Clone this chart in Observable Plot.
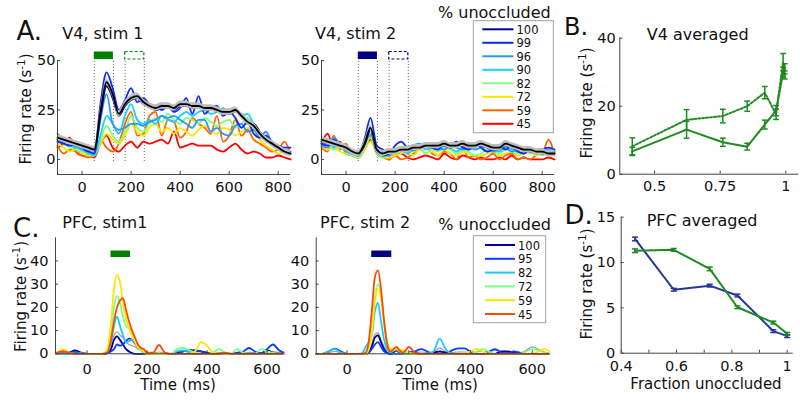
<!DOCTYPE html>
<html><head><meta charset="utf-8">
<script src="https://cdn.jsdelivr.net/npm/d3@7"></script>
<script src="https://cdn.jsdelivr.net/npm/@observablehq/plot@0.6"></script>
<style>
body{margin:0;background:#fff;}
#root{position:relative;width:800px;height:402px;overflow:hidden;font-family:"DejaVu Sans",sans-serif;background:#fff;}
#root svg{position:absolute;}
</style></head><body><div id="root"></div>
<script>
// ---------- time grids ----------
const tA = [-100,-75,-50,-25,0,25,50,75,100,125,150,175,200,225,250,275,300,325,350,375,400,425,450,475,500,525,550,575,600,625,650,675,700,725,750,775,800,825,850];
const tC = [-100,-80,-60,-40,-20,0,20,40,50,60,70,80,90,100,110,120,130,140,150,160,170,180,190,200,220,240,260,280,300,320,340,360,380,400,420,440,460,480,500,520,540,560,580,600,620,640,655];

// ---------- legend levels / colours ----------
const v4Levels = ["100","99","96","90","82","72","59","45"];
const v4Colors = ["#00008c","#0a28ff","#2b96ff","#14d2ff","#7dff82","#ffe600","#ff6400","#ff0000"];
const pfcLevels = ["100","95","82","72","59","45"];
const pfcColors = ["#00009b","#0a3cff","#1ec8ff","#78ff8c","#ffe600","#ff4a00"];

// ---------- A: V4, stim 1 ----------
const a1Mean = [11,10,9,8,7,6,5,24,39,33,23,28,31,32,29,27,26,27,27,26,28,28,27,27,26,26,25,24,24,25,22,19,17,13,10,8,6,4,3];
const a1_100 = [10,9,9,7,7,5,4,22,37,31,22,27,30,31,28,27,25,26,27,25,27,27,26,28,25,27,24,25,23,24,23,18,18,14,11,8,7,4,3];
const a1_99  = [9,8,7,8,6,4,3,28,44,36,25,30,36,29,31,28,27,25,27,24,26,31,23,32,23,26,27,22,24,21,16,19,13,11,12,9,7,6,6];
const a1_96  = [13,10,8,7,5,4,3,20,33,18,15,16,18,18,17,19,20,22,21,22,20,18,16,20,20,14,16,13,12,17,18,14,15,11,14,8,6,5,4];
const a1_90  = [10,8,7,6,5,3,2,12,22,18,13,22,28,20,18,20,18,22,20,19,22,24,22,24,25,23,24,26,23,25,22,23,18,14,10,7,5,4,4];
const a1_82  = [9,8,6,5,4,3,2,10,17,12,9,14,22,16,14,18,21,19,23,20,18,21,20,18,21,19,17,19,20,16,18,21,16,13,10,7,5,4,3];
const a1_72  = [8,6,4,5,3,2,2,8,13,10,8,12,18,14,12,16,18,14,16,13,16,14,12,15,17,14,13,16,15,12,14,16,15,10,7,5,3,4,3];
const a1_59  = [7,3,5,4,2,1,2,10,6,4,8,18,24,12,13,22,24,12,20,19,11,14,21,18,16,13,22,9,12,20,12,15,10,8,6,4,5,9,3];
const a1_45  = [6,8,11,4,2,2,1,8,12,6,4,7,9,6,9,8,9,10,8,14,6,7,8,7,7,7,5,4,6,8,5,3,4,3,1,1,2,1,0];

// ---------- A: V4, stim 2 ----------
const a2Mean = [10,9,8,7,6,4,3,8,16,5,3,4,4,5,5,6,6,7,7,7,8,7,7,8,7,7,8,7,6,6,8,7,6,5,5,4,4,3,3];
const a2_100 = [9,8,8,7,5,4,3,7,15,4,2,3,4,5,5,5,6,7,6,7,7,6,8,7,6,7,7,6,5,6,7,6,5,5,4,4,3,3,3];
const a2_99  = [8,7,10,7,5,4,3,10,21,7,5,3,7,9,6,5,7,8,6,5,8,7,9,6,5,8,6,4,5,7,5,7,4,3,5,4,5,6,5];
const a2_96  = [7,6,11,8,5,3,2,9,15,5,3,2,5,6,4,7,8,6,7,6,5,7,6,5,7,5,6,7,4,5,6,4,5,6,4,3,4,5,4];
const a2_90  = [9,10,6,8,4,3,2,8,13,4,2,2,4,5,3,5,7,5,6,5,7,6,4,6,5,6,7,4,5,4,6,5,4,3,5,4,3,4,4];
const a2_82  = [8,7,5,6,4,2,1,6,11,3,1,2,3,4,5,4,6,3,5,4,6,5,3,5,4,2,3,5,4,3,5,4,3,6,3,4,2,3,3];
const a2_72  = [7,5,6,4,3,2,1,5,9,3,1,1,2,3,4,2,5,3,4,2,5,3,2,4,3,2,2,3,4,2,3,4,2,3,4,2,3,2,2];
const a2_59  = [6,4,12,5,8,2,1,6,12,3,1,0,2,0,1,3,6,7,3,2,4,3,0,6,1,2,0,1,3,0,2,3,0,1,0,2,3,10,2];
const a2_45  = [8,13,6,9,3,2,1,5,10,4,2,1,2,3,1,0,1,2,1,0,3,1,0,2,1,0,1,0,0,1,0,2,0,1,0,0,0,1,0];

// stimulus windows (ms)
const v4Stim = [[50,128],[176,254]];
const pfcStim = [80,145];

// ---------- B: V4 averaged ----------
const bX = [0.415,0.622,0.76,0.853,0.92,0.963,0.99,0.996];
const bSolid = [6.7,13.1,9.4,8.1,14.6,18.7,30,29.2];
const bSolidErr = [1.2,2.5,1.2,1.0,1.3,1.5,1.5,1.2];
const bDotted = [8.2,16.0,17.1,20,24,17.6,33,31];
const bDottedErr = [2.5,3,2,1.5,1.8,1.5,2.5,1.5];

// ---------- C: PFC, stim1 ----------
const c1Mean = [0.5,1,0.5,1.5,0.5,0,0,0,0,0.2,1,4,8,9.5,8,7,5,4,3.5,3,2,1.5,1,0.5,0.3,0.8,0.3,0,0.6,1,1,0.8,1,0.6,0.3,0.5,0.3,0.2,0.5,0.5,0.6,0.5,0.5,1,1,0.5,0.3];
const c1_100 = [0.3,1,0.5,1.5,0.5,0,0,0,0,0,0.5,2,6,7.5,6,4,2,1,0.3,0,0,0,0,0,0,0,0,0,0.3,1,1.5,1.5,1,0.5,0,0,0,0,0,0,0,0,0,1.5,0.5,0,0];
const c1_95  = [0,0.5,0.5,0.8,0.3,0,0,0,0,0,0.5,1,2,4,3.5,4,5.5,6.5,6,4.5,3,2,1,0.5,0,0,0,0,0,1,1.5,1.5,1,0,0,0,0,0,0.5,1,2.5,1,0.3,2,4,1.5,0.5];
const c1_82  = [0,0,0,0,0.3,0,0,0,0,0.2,1,5,12,16,12,8,5,5.5,6,5,3,1.5,0.5,0,0,0,0,0,1,1.5,0.5,0,0,0,0,0,0,0,0,0,0,0,0,0,0,0,0];
const c1_72  = [0.5,1,0.5,0,0,0,0,0,0,0.5,2,9,20,25,22,16,12,11,10.5,6,3,1.5,0.5,0,0,0,0,0,2,2.5,1.5,0.5,0,0,0.5,2,0.5,0,2,0.5,0,0,2,1,0.5,0,0];
const c1_59  = [0,2,0.5,0,0,0,0,0,0,0.5,3,13,28,34,31,22,15,11,8,5,3,2,1,0,0,0,0,0,0,0,0,1,5,3.5,0.5,0,0,0,0,0,0,0,0,0,0,0,0];
const c1_45  = [0.5,1,0.5,0,0,0,0,0,0,0.2,1,6,14,20,23,24,19,14,10,7,4,2.5,2,0.5,0.5,3.8,0.5,0,0,0,0,0,0,0,0,0,0.5,0,0,0,0,0,0,0,0,0,0];

// ---------- C: PFC, stim 2 ----------
const c2Mean = [0,0,0.5,1,0.5,0,0,0,0,0.5,1,4,8.5,9,6,3,1.5,1,1,1,0.5,0.5,0.3,0.5,0.5,0.8,0.5,0.8,2.5,1,0.5,0.8,0.8,0.5,0.8,1,0.8,1.5,1,0.6,0.5,0.3,1.5,3,2,0.8,0.3];
const c2_100 = [0,0,0,0,0,0,0,0,0,0,0.5,3,7,8,5,2,0.5,0,0,0,0,0,0,0,0,0,0,0.5,1,0.5,0,0,0,0,0,0,0,0,1,1,0.5,0,0,0,0,0,0];
const c2_95  = [0,0,1,2.2,1,0,0,0,0,0,0.5,2,4,5,3,1,0.3,0,0.5,1.5,0.5,0,0,0.5,1,2,1,0,0,0,1.5,2.3,2.3,1,0,0,1,2,0.5,0,1,0.5,0,0,0,0,0];
const c2_82  = [0,0,1,2,0.5,0,0,0,0.5,3,5,8,18,22,14,6,2,0.5,0,0,0,0,0,0,0,0,0,1,6.5,2,0,0,0,0,0,0,0,0,0,0,0,0,0,0,0,0,0];
const c2_72  = [0,0,0,0,0,0,0,0,0,0,2,10,24,30,26,14,5,2,2,2,1,0.3,0,0,0,0,0,0,0,0,0,0,0,0,1,2,1,0,0,0,0,0,1,2,1.5,0.5,0];
const c2_59  = [0,0,0,0,0,0,0,0,0,0,2,9,22,28,24,13,5,2,1.5,2,2,1.5,1,0.5,0,0,0,0,0,0,0,0,0,1,2,1,0,0,0,0,0,0,0,0,1,2,1];
const c2_45  = [0,0,0,0,0,0,0,0,0,0.5,5,18,33,36,28,14,4,1,2,3,1.5,0.5,1.5,3,0.5,0,0,0,0,0,0,0,0,0,0,0,0,0,0,0,0,0,0,0,0,0,0];

// ---------- D: PFC averaged ----------
const dX = [0.45,0.59,0.72,0.82,0.95,1.0];
const dBlue = [12.6,7.0,7.45,6.36,2.43,1.88];
const dBlueErr = [0.2,0.15,0.15,0.15,0.15,0.15];
const dGreen = [11.3,11.4,9.3,5.07,3.38,2.14];
const dGreenErr = [0.2,0.15,0.2,0.15,0.15,0.15];

const GREEN = "#1f8a1f", STIMGREEN = "#008000", NAVY = "#000080", DBLUE = "#25389a";

// ---------- helpers ----------
const root = document.getElementById("root");
const rows = (t, v) => t.map((x, i) => ({t: x, v: v[i]}));

function panel(o){
  const [x0,x1] = o.xDomain, [y0,y1] = o.yDomain;
  const pxX = (o.width - o.ml - o.mr)/(x1-x0);
  const pxY = (o.height - o.mt - o.mb)/(y1-y0);
  const axisMarks = [
    Plot.ruleX([x0], {y1: y0, y2: y1, stroke: "#444", strokeWidth: 1}),
    Plot.ruleY([y0], {x1: x0, x2: x1, stroke: "#444", strokeWidth: 1}),
    Plot.ruleX(o.xTicks, {x: d => d, y1: y0, y2: y0 + 3/pxY, stroke: "#444"}),
    Plot.ruleY(o.yTicks, {y: d => d, x1: x0, x2: x0 + 3/pxX, stroke: "#444"})
  ];
  const svg = Plot.plot({
    width: o.width, height: o.height,
    marginLeft: o.ml, marginRight: o.mr, marginTop: o.mt, marginBottom: o.mb,
    x: {domain: o.xDomain, ticks: o.xTicks, tickFormat: o.xFmt, tickSize: 0, tickPadding: o.xPad, label: null},
    y: {domain: o.yDomain, ticks: o.yTicks, tickSize: 0, tickPadding: o.yPad, label: null},
    style: {background: "transparent", fontSize: "14.5px", fontFamily: "'DejaVu Sans', sans-serif", color: "#111", overflow: "visible"},
    marks: [...o.marks, ...axisMarks]
  });
  svg.style.position = "absolute";
  svg.style.left = o.left + "px";
  svg.style.top = o.top + "px";
  root.appendChild(svg);
}

function v4Marks(series, mean, stimColor){
  const order = [7,6,5,4,3,2,0,1];
  const m = [];
  m.push(Plot.ruleX(v4Stim.flat(), {x: d => d, y1: -1, y2: 50.5, stroke: "#666", strokeDasharray: "1,2", strokeWidth: 1}));
  for (const i of order) m.push(Plot.line(rows(tA, series[i]), {x: "t", y: "v", stroke: v4Colors[i], strokeWidth: 1.8, curve: "monotone-x"}));
  m.push(Plot.areaY(rows(tA, mean), {x: "t", y1: d => d.v - 1.6, y2: d => d.v + 1.6, fill: "#bdbdbd", curve: "monotone-x"}));
  m.push(Plot.line(rows(tA, mean), {x: "t", y: "v", stroke: "#000", strokeWidth: 1.8, curve: "monotone-x"}));
  m.push(Plot.rect([v4Stim[0]], {x1: d => d[0], x2: d => d[1], y1: 50.5, y2: 54.3, fill: stimColor}));
  m.push(Plot.rect([v4Stim[1]], {x1: d => d[0], x2: d => d[1], y1: 50.5, y2: 54.3, fill: "none", stroke: stimColor, strokeWidth: 1.2, strokeDasharray: "3,2"}));
  return m;
}

function pfcMarks(series, mean, stimColor){
  const m = [];
  m.push(Plot.line(rows(tC, mean), {x: "t", y: "v", stroke: "#9a9a9a", strokeWidth: 1.1, curve: "monotone-x"}));
  for (let i = 0; i < series.length; i++) m.push(Plot.line(rows(tC, series[i]), {x: "t", y: "v", stroke: pfcColors[i], strokeWidth: 1.8, curve: "monotone-x"}));
  m.push(Plot.rect([pfcStim], {x1: d => d[0], x2: d => d[1], y1: 41.5, y2: 44.3, fill: stimColor}));
  return m;
}

function errMarks(xs, ys, es, color, cap){
  const d = xs.map((x, i) => ({x, y: ys[i], e: es[i]}));
  return [
    Plot.ruleX(d, {x: "x", y1: r => r.y - r.e, y2: r => r.y + r.e, stroke: color, strokeWidth: 1.5}),
    Plot.link(d, {x1: r => r.x - cap, x2: r => r.x + cap, y1: r => r.y + r.e, y2: r => r.y + r.e, stroke: color, strokeWidth: 1.5}),
    Plot.link(d, {x1: r => r.x - cap, x2: r => r.x + cap, y1: r => r.y - r.e, y2: r => r.y - r.e, stroke: color, strokeWidth: 1.5})
  ];
}

// ---------- A panels ----------
panel({left: 0, top: 0, width: 300, height: 200, ml: 57, mr: 10, mt: 60, mb: 26,
  xDomain: [-100, 850], yDomain: [-7.6, 50], xTicks: [0,200,400,600,800], yTicks: [0,25,50],
  xPad: 7, yPad: 2,
  marks: v4Marks([a1_100,a1_99,a1_96,a1_90,a1_82,a1_72,a1_59,a1_45], a1Mean, STIMGREEN)});

panel({left: 280, top: 0, width: 285, height: 200, ml: 41, mr: 11, mt: 60, mb: 26,
  xDomain: [-100, 850], yDomain: [-7.6, 50], xTicks: [0,200,400,600,800], yTicks: [0,25,50],
  xPad: 7, yPad: 2,
  marks: v4Marks([a2_100,a2_99,a2_96,a2_90,a2_82,a2_72,a2_59,a2_45], a2Mean, NAVY)});

// ---------- B ----------
{
  const d = bX.map((x, i) => ({x, s: bSolid[i], dd: bDotted[i]}));
  panel({left: 560, top: 0, width: 240, height: 200, ml: 59.3, mr: 1.7, mt: 37.7, mb: 26.3,
    xDomain: [0.3674, 1.0497], yDomain: [0, 40], xTicks: [0.5,0.75,1], yTicks: [0,20,40],
    xFmt: v => String(v), xPad: 7, yPad: 4,
    marks: [
      Plot.line(d, {x: "x", y: "dd", stroke: GREEN, strokeWidth: 2, strokeDasharray: "2,2"}),
      Plot.line(d, {x: "x", y: "s", stroke: GREEN, strokeWidth: 2}),
      ...errMarks(bX, bDotted, bDottedErr, GREEN, 0.011),
      ...errMarks(bX, bSolid, bSolidErr, GREEN, 0.011)
    ]});
}

// ---------- C panels ----------
panel({left: 0, top: 200, width: 300, height: 202, ml: 55, mr: 17, mt: 37.3, mb: 48.7,
  xDomain: [-105, 655], yDomain: [0, 50], xTicks: [0,200,400,600], yTicks: [0,10,20,30,40],
  xPad: 10, yPad: 7,
  marks: pfcMarks([c1_100,c1_95,c1_82,c1_72,c1_59,c1_45], c1Mean, STIMGREEN)});

panel({left: 280, top: 200, width: 285, height: 202, ml: 35.7, mr: 16.3, mt: 37.3, mb: 48.7,
  xDomain: [-100, 655], yDomain: [0, 50], xTicks: [0,200,400,600], yTicks: [0,10,20,30,40],
  xPad: 10, yPad: 7,
  marks: pfcMarks([c2_100,c2_95,c2_82,c2_72,c2_59,c2_45], c2Mean, NAVY)});

// ---------- D ----------
{
  const b = dX.map((x, i) => ({x, y: dBlue[i]}));
  const g = dX.map((x, i) => ({x, y: dGreen[i]}));
  const labeled = new Set([0.4, 0.6, 0.8, 1]);
  panel({left: 560, top: 200, width: 240, height: 202, ml: 60.7, mr: 7.3, mt: 16.7, mb: 49.3,
    xDomain: [0.4, 1.0217], yDomain: [0, 15], xTicks: [0.4,0.5,0.6,0.7,0.8,0.9,1], yTicks: [0,5,10,15],
    xFmt: v => labeled.has(v) ? String(v) : "", xPad: 8, yPad: 6,
    marks: [
      Plot.line(b, {x: "x", y: "y", stroke: DBLUE, strokeWidth: 2}),
      Plot.line(g, {x: "x", y: "y", stroke: GREEN, strokeWidth: 2}),
      ...errMarks(dX, dBlue, dBlueErr, DBLUE, 0.011),
      ...errMarks(dX, dGreen, dGreenErr, GREEN, 0.011)
    ]});
}

// ---------- text overlay + legends ----------
const ov = d3.select("#root").append("svg").attr("width", 800).attr("height", 402)
  .style("left", "0px").style("top", "0px").attr("font-family", "'DejaVu Sans', sans-serif");
function txt(x, y, s, size, anchor){
  ov.append("text").attr("x", x).attr("y", y).attr("font-size", size)
    .attr("text-anchor", anchor || "start").attr("fill", "#111").text(s);
}
function ylab(x, y, size){
  const t = ov.append("text").attr("transform", `translate(${x},${y}) rotate(-90)`)
    .attr("text-anchor", "middle").attr("font-size", size).attr("fill", "#111");
  t.append("tspan").text("Firing rate (s");
  t.append("tspan").attr("dy", -6).attr("font-size", size * 0.7).text("-1");
  t.append("tspan").attr("dy", 6).text(")");
}
function legend(x, y, w, h, levels, colors, rowY0, rowStep, lx1, lx2, tx){
  ov.append("rect").attr("x", x).attr("y", y).attr("width", w).attr("height", h)
    .attr("fill", "#fff").attr("stroke", "#a0a0a0").attr("stroke-width", 1);
  levels.forEach((l, i) => {
    const yy = rowY0 + i * rowStep;
    ov.append("line").attr("x1", lx1).attr("x2", lx2).attr("y1", yy).attr("y2", yy)
      .attr("stroke", colors[i]).attr("stroke-width", 2);
    ov.append("text").attr("x", tx).attr("y", yy + 4.6).attr("font-size", 11.5).attr("fill", "#111").text(l);
  });
}

txt(16.5, 40, "A.", 26);
txt(564, 34.5, "B.", 24);
txt(13, 236.7, "C.", 26);
txt(564.5, 224.3, "D.", 26);

txt(62.3, 39.3, "V4, stim 1", 16);
txt(315, 39.3, "V4, stim 2", 16);
txt(646.7, 39.5, "V4 averaged", 16);
txt(438, 18.3, "% unoccluded", 16);
txt(62.3, 227.7, "PFC, stim1", 16);
txt(320, 228.3, "PFC, stim 2", 16);
txt(438.3, 230, "% unoccluded", 16);
txt(646.7, 225.7, "PFC averaged", 16);

ylab(31, 109, 15);
ylab(592, 103, 15);
ylab(25.5, 296.5, 15);
ylab(592, 284, 15);

txt(178, 390, "Time (ms)", 15, "middle");
txt(440, 390, "Time (ms)", 15, "middle");
txt(706, 389, "Fraction unoccluded", 15, "middle");

legend(473.3, 20.7, 80, 112, v4Levels, v4Colors, 29.3, 13.5, 482.3, 513.5, 516.5);
legend(473.3, 235.7, 72.4, 87, pfcLevels, pfcColors, 245, 13.8, 485, 515, 518);
</script></body></html>
